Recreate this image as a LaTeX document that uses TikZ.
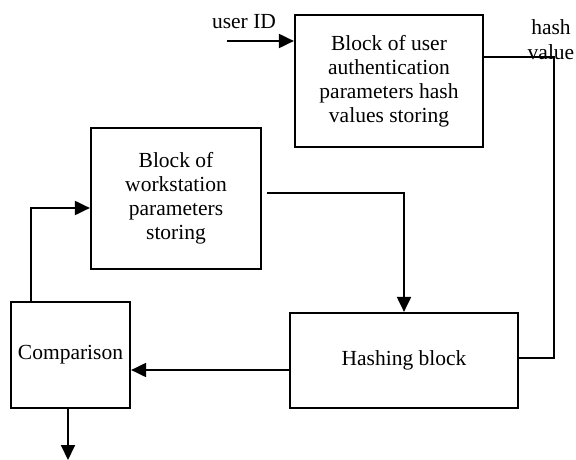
\documentclass[tikz,border=0pt]{standalone}
\usepackage{fontspec}
\setmainfont{Liberation Serif}
\usetikzlibrary{arrows.meta,calc}
\tikzset{
  blockbox/.style={draw, line width=2.2pt, rectangle, inner sep=0pt, align=center,
    font=\fontsize{21.5}{24}\selectfont},
  conn/.style={line width=2pt},
  arr/.style={conn, -{Triangle[length=15pt,width=14pt]}},
  lbl/.style={inner sep=0pt, align=center, font=\fontsize{21.5}{25}\selectfont}
}
\begin{document}
\begin{tikzpicture}[x=1pt,y=-1pt]
\useasboundingbox (0,0) rectangle (576,460);
\node[blockbox, minimum width=188pt, minimum height=132pt] (top) at (389,81)
  {Block of user\\authentication\\parameters hash\\values storing};
\node[blockbox, minimum width=170pt, minimum height=141pt] (ws) at (176,198.5)
  {Block of\\workstation\\parameters\\storing};
\node[blockbox, minimum width=119pt, minimum height=106pt] (comp) at (70.5,355)
  {Comparison};
\node[blockbox, minimum width=228pt, minimum height=95pt] (hash) at (404,360.5)
  {Hashing block};
\node[lbl] (uidl) at (244,22) {user ID};
\node[lbl] (hvl) at (551,40) {hash\\value};
\coordinate (uid) at (227,41);
\coordinate (c1) at (554,57);
\coordinate (c2) at (404,193);
\coordinate (c3) at (0,370);
\coordinate (c4) at (31,208);
\coordinate (out) at (68,460);
\draw[arr] (uid) -- (uid -| top.west);
\draw[conn] (c1 -| top.east) -- (c1) |- ($(hash.east)+(0,-2.5)$);
\draw[arr] ($(ws.east |- c2)+(5,0)$) -| (hash.north);
\draw[arr] (hash.west |- c3) -- (comp.east |- c3);
\draw[arr] (comp.north -| c4) |- (ws.west |- c4);
\draw[arr] (comp.south -| out) -- (out);
\end{tikzpicture}
\end{document}
